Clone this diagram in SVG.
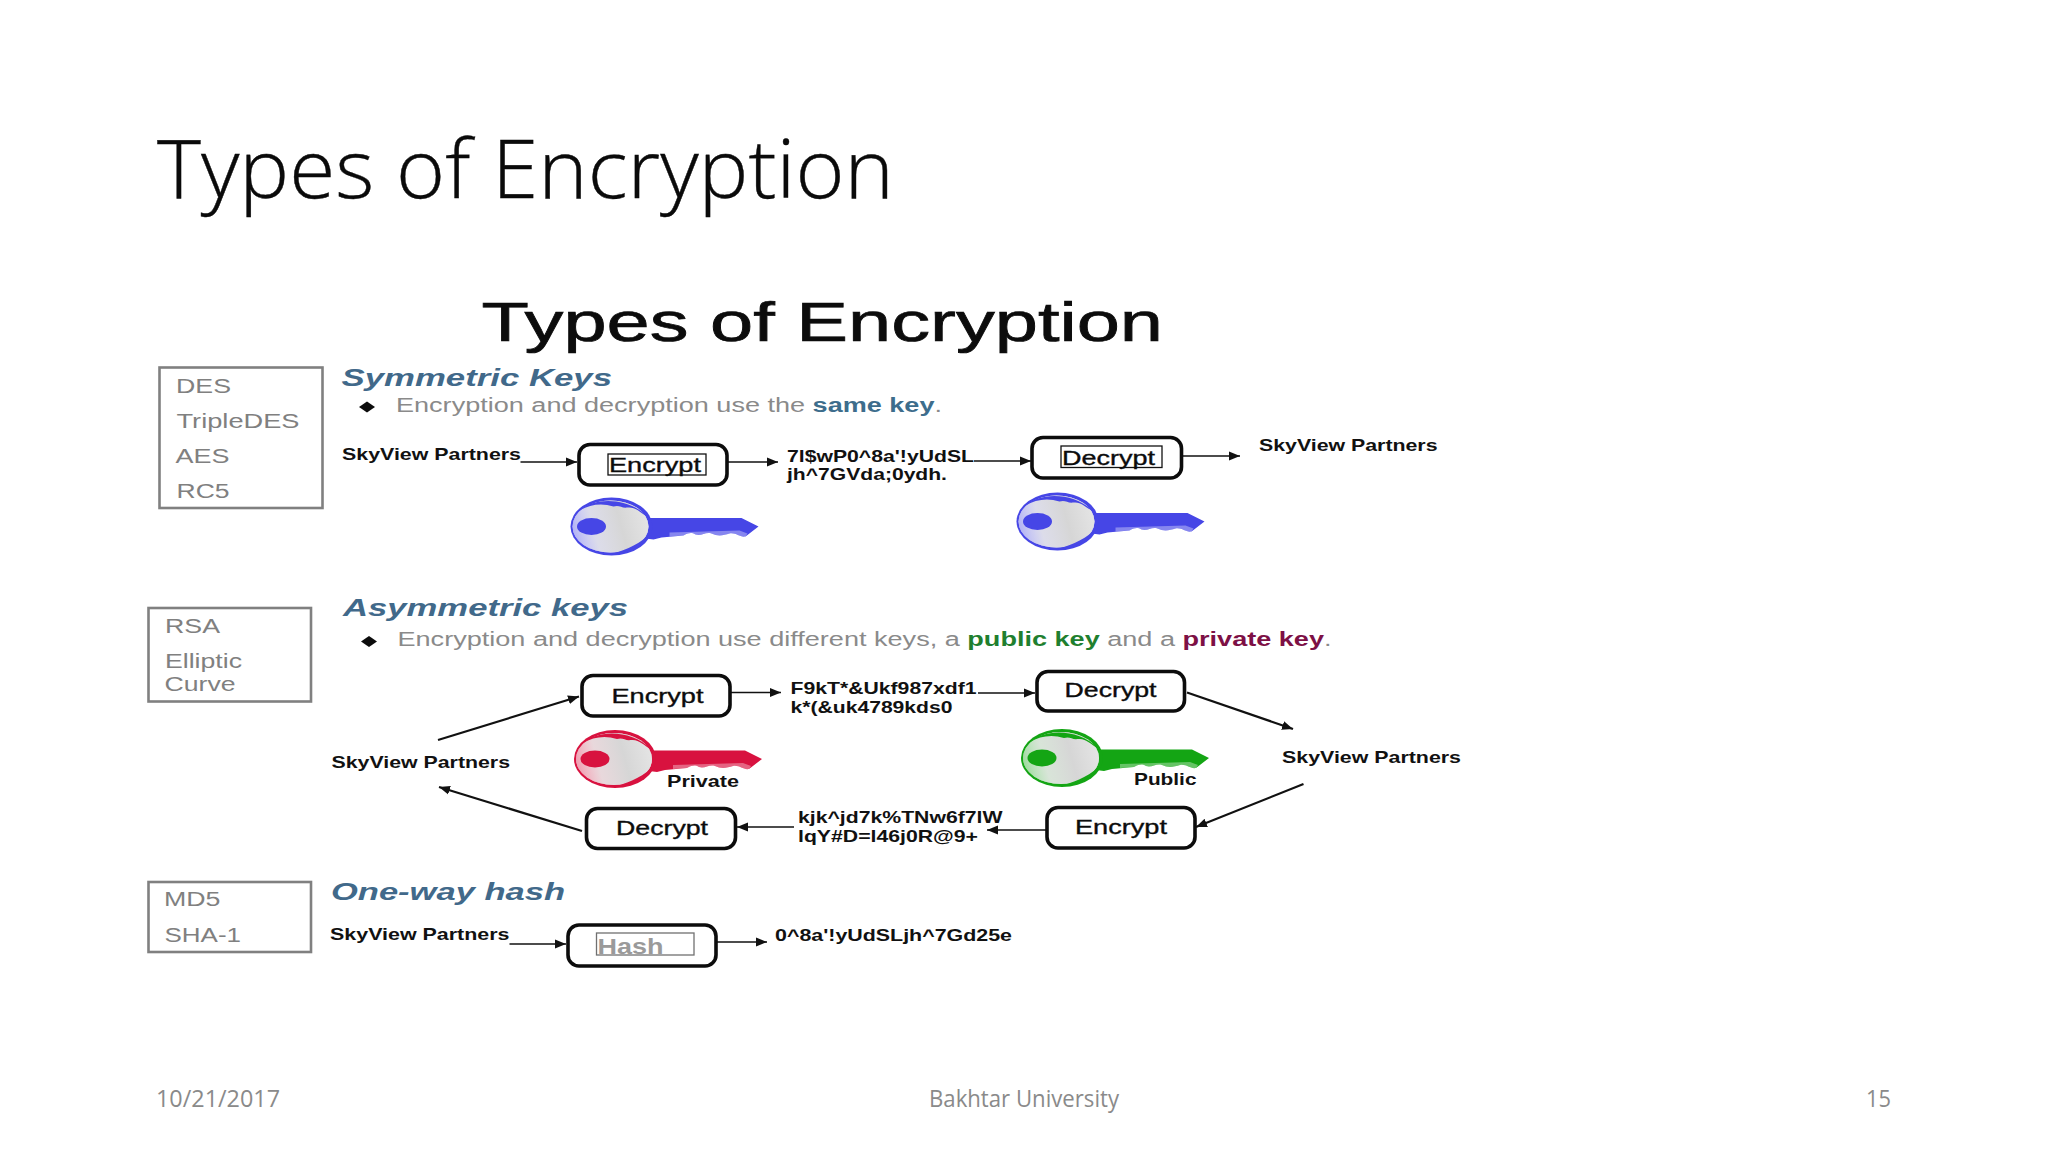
<svg xmlns="http://www.w3.org/2000/svg" width="2048" height="1152" viewBox="0 0 2048 1152">
<style>
text{font-family:"Liberation Sans",Arial,sans-serif;}
.title{font-family:"Open Sans","Liberation Sans",sans-serif;font-weight:300;font-size:82px;fill:#0a0a0a;stroke:#0a0a0a;stroke-width:.4;}
.foot{font-family:"Open Sans","Liberation Sans",sans-serif;font-size:23px;fill:#8a8a8a;}
.h0{font-size:55px;fill:#0c0c0c;stroke:#0c0c0c;stroke-width:.7;}
.list{font-size:20px;fill:#808080;}
.head{font-size:24px;font-weight:bold;font-style:italic;fill:#41698a;}
.desc{font-size:19.5px;fill:#8a8a8a;}
.lab{font-size:16.5px;font-weight:bold;fill:#111;}
.nt{font-size:20px;fill:#0c0c0c;stroke:#0c0c0c;stroke-width:.35;}
.hash{font-size:22px;font-weight:bold;fill:#9a9a9a;}
.box{fill:#fff;stroke:#808080;stroke-width:2.6;}
.node{fill:#fff;stroke:#0c0c0c;stroke-width:3.6;}
.inner{fill:none;stroke:#111;stroke-width:1.3;}
.ar{fill:none;stroke:#111;stroke-width:1.6;marker-end:url(#ah);}
.ard{fill:none;stroke:#111;stroke-width:2.2;marker-end:url(#ah);}
</style>
<defs>
<marker id="ah" markerUnits="userSpaceOnUse" markerWidth="12" markerHeight="10" refX="11" refY="5" orient="auto"><path d="M0,0.5 L11,5 L0,9.5 Z" fill="#111"/></marker>
<linearGradient id="headfill" gradientUnits="userSpaceOnUse" x1="-38" y1="14" x2="36" y2="-6">
<stop offset="0" stop-color="#fff" stop-opacity=".2"/><stop offset=".3" stop-color="#e8e8e8" stop-opacity=".85"/><stop offset=".65" stop-color="#d6d6d6"/><stop offset="1" stop-color="#e4e4e4"/>
</linearGradient>
<g id="key">
<path fill="currentColor" d="M34,-8.500 L130,-8.500 L147,0 L134,10 C128,11 125,6 118,7 C112,9 106,10 100,7 C94,5 90,10 84,8 C80,6 78,6 72,9 L50,11 L42,13 L34,12 Z"/>
<path fill="#fff" fill-opacity=".35" d="M58,6 L128,4 L136,7 L134,10 C128,11 125,6 118,7 C112,9 106,10 100,7 C94,5 90,10 84,8 C80,6 78,6 72,9 L58,10 Z"/>
<ellipse rx="41" ry="29" fill="currentColor"/>
<ellipse cx="-1" rx="38" ry="26" fill="#fff"/>
<ellipse cx="-1" rx="38" ry="26" fill="currentColor" fill-opacity=".55"/>
<ellipse cx="-1" rx="38" ry="26" fill="url(#headfill)"/>
<path fill="currentColor" d="M-32,-16 C-18,-29 16,-30 36,-10 C28,-14 24,-20 16,-19 C10,-18 8,-22 2,-20 C-10,-24 -22,-22 -32,-16 Z"/>
<path fill="currentColor" d="M37,9 C28,21 12,28 -2,28 C10,25 24,20 37,9 Z"/>
<ellipse cx="-20" cy="0" rx="14.500" ry="8.500" fill="currentColor"/>
</g>
</defs>
<rect width="2048" height="1152" fill="#fff"/>

<g id="slide-title"><text class="title" x="157" y="198" textLength="737" lengthAdjust="spacingAndGlyphs">Types of Encryption</text></g>
<g id="picture-title"><text class="h0" x="481.500" y="341" textLength="681.500" lengthAdjust="spacingAndGlyphs">Types of Encryption</text></g>

<g id="connectors">
<path class="ar" d="M520.5,462 H577"/>
<path class="ar" d="M728,462 H778"/>
<path class="ar" d="M974,461 H1031"/>
<path class="ar" d="M1183,456 H1240"/>
<path class="ard" d="M438,740 L579,696.5"/>
<path class="ar" d="M731,692.5 H781"/>
<path class="ar" d="M978,693 H1035"/>
<path class="ard" d="M1187,692.5 L1293,729"/>
<path class="ard" d="M1303.5,784 L1196,827"/>
<path class="ar" d="M1047,830 H987"/>
<path class="ar" d="M794,827 H737"/>
<path class="ard" d="M582,831 L439,787"/>
<path class="ar" d="M509.5,944 H566"/>
<path class="ar" d="M717,942 H767"/>
</g>

<g id="list-symmetric">
<rect class="box" x="159.500" y="367.500" width="163" height="140.500"/>
<text class="list" x="176" y="393" textLength="55" lengthAdjust="spacingAndGlyphs">DES</text>
<text class="list" x="176.500" y="428" textLength="123" lengthAdjust="spacingAndGlyphs">TripleDES</text>
<text class="list" x="175.500" y="463" textLength="54" lengthAdjust="spacingAndGlyphs">AES</text>
<text class="list" x="176.500" y="497.500" textLength="53" lengthAdjust="spacingAndGlyphs">RC5</text>
</g>
<g id="heading-symmetric">
<text class="head" x="341.500" y="386" textLength="270.500" lengthAdjust="spacingAndGlyphs">Symmetric Keys</text>
<path d="M359,407 L367,401.500 L375,407 L367,412.500 Z" fill="#0c0c0c"/>
<text class="desc" x="396" y="412" textLength="546" lengthAdjust="spacingAndGlyphs">Encryption and decryption use the <tspan font-weight="bold" fill="#3d6d8c">same key</tspan>.</text>
</g>
<g id="sym-source"><text class="lab" x="342" y="459.500" textLength="179" lengthAdjust="spacingAndGlyphs">SkyView Partners</text></g>
<g id="sym-encrypt">
<rect class="node" x="579" y="444.500" width="148" height="40.500" rx="11"/>
<rect class="inner" x="608" y="454" width="98" height="21"/>
<text class="nt" x="609" y="472" textLength="92" lengthAdjust="spacingAndGlyphs">Encrypt</text>
</g>
<g id="sym-cipher">
<text class="lab" x="787" y="461.500" textLength="187" lengthAdjust="spacingAndGlyphs">7l$wP0^8a'!yUdSL</text>
<text class="lab" x="787" y="480" textLength="160" lengthAdjust="spacingAndGlyphs">jh^7GVda;0ydh.</text>
</g>
<g id="sym-decrypt">
<rect class="node" x="1032" y="437.500" width="149.500" height="40.500" rx="11"/>
<rect class="inner" x="1061" y="446" width="101" height="21.500"/>
<text class="nt" x="1062" y="464.500" textLength="93" lengthAdjust="spacingAndGlyphs">Decrypt</text>
</g>
<g id="sym-target"><text class="lab" x="1259" y="450.500" textLength="178.500" lengthAdjust="spacingAndGlyphs">SkyView Partners</text></g>
<g id="sym-key-1" color="#4646e6"><use href="#key" transform="translate(611.500,526.500)"/></g>
<g id="sym-key-2" color="#4646e6"><use href="#key" transform="translate(1057.500,521.500)"/></g>

<g id="list-asymmetric">
<rect class="box" x="148.500" y="608" width="162.500" height="93.500"/>
<text class="list" x="165" y="633" textLength="55" lengthAdjust="spacingAndGlyphs">RSA</text>
<text class="list" x="165" y="667.500" textLength="77" lengthAdjust="spacingAndGlyphs">Elliptic</text>
<text class="list" x="164.500" y="690.500" textLength="71" lengthAdjust="spacingAndGlyphs">Curve</text>
</g>
<g id="heading-asymmetric">
<text class="head" x="343" y="615.500" textLength="285" lengthAdjust="spacingAndGlyphs">Asymmetric keys</text>
<path d="M361,641.500 L369,636 L377,641.500 L369,647 Z" fill="#0c0c0c"/>
<text class="desc" x="397.500" y="646" textLength="934" lengthAdjust="spacingAndGlyphs">Encryption and decryption use different keys, a <tspan font-weight="bold" fill="#1f7f2f">public key</tspan> and a <tspan font-weight="bold" fill="#7d1045">private key</tspan>.</text>
</g>
<g id="asym-source"><text class="lab" x="331.500" y="768" textLength="178.500" lengthAdjust="spacingAndGlyphs">SkyView Partners</text></g>
<g id="asym-encrypt-top">
<rect class="node" x="582" y="675.500" width="148" height="40.500" rx="11"/>
<text class="nt" x="611.500" y="702.500" textLength="92" lengthAdjust="spacingAndGlyphs">Encrypt</text>
</g>
<g id="asym-cipher-top">
<text class="lab" x="790.500" y="693.500" textLength="186" lengthAdjust="spacingAndGlyphs">F9kT*&amp;Ukf987xdf1</text>
<text class="lab" x="790.500" y="712.500" textLength="162" lengthAdjust="spacingAndGlyphs">k*(&amp;uk4789kds0</text>
</g>
<g id="asym-decrypt-top">
<rect class="node" x="1037" y="671.500" width="147.500" height="39.500" rx="11"/>
<text class="nt" x="1064.500" y="697" textLength="92" lengthAdjust="spacingAndGlyphs">Decrypt</text>
</g>
<g id="asym-target"><text class="lab" x="1282" y="763" textLength="179" lengthAdjust="spacingAndGlyphs">SkyView Partners</text></g>
<g id="asym-key-private" color="#d8123f">
<use href="#key" transform="translate(615,759)"/>
<text class="lab" x="667" y="786.500" textLength="72" lengthAdjust="spacingAndGlyphs">Private</text>
</g>
<g id="asym-key-public" color="#14a514">
<use href="#key" transform="translate(1062,758)"/>
<text class="lab" x="1134" y="785" textLength="62.500" lengthAdjust="spacingAndGlyphs">Public</text>
</g>
<g id="asym-encrypt-bottom">
<rect class="node" x="1047" y="807.500" width="148" height="40.500" rx="11"/>
<text class="nt" x="1075" y="834" textLength="92" lengthAdjust="spacingAndGlyphs">Encrypt</text>
</g>
<g id="asym-cipher-bottom">
<text class="lab" x="798" y="823" textLength="204.500" lengthAdjust="spacingAndGlyphs">kjk^jd7k%TNw6f7lW</text>
<text class="lab" x="798" y="842" textLength="180" lengthAdjust="spacingAndGlyphs">lqY#D=l46j0R@9+</text>
</g>
<g id="asym-decrypt-bottom">
<rect class="node" x="586.500" y="808.500" width="149" height="40" rx="11"/>
<text class="nt" x="616" y="835" textLength="92" lengthAdjust="spacingAndGlyphs">Decrypt</text>
</g>

<g id="list-hash">
<rect class="box" x="148.500" y="882" width="162.500" height="70"/>
<text class="list" x="164" y="906" textLength="56.500" lengthAdjust="spacingAndGlyphs">MD5</text>
<text class="list" x="164.500" y="941.500" textLength="76.500" lengthAdjust="spacingAndGlyphs">SHA-1</text>
</g>
<g id="heading-hash"><text class="head" x="331" y="900" textLength="234" lengthAdjust="spacingAndGlyphs">One-way hash</text></g>
<g id="hash-source"><text class="lab" x="330" y="939.500" textLength="179.500" lengthAdjust="spacingAndGlyphs">SkyView Partners</text></g>
<g id="hash-node">
<rect class="node" x="568" y="925" width="148" height="41" rx="11"/>
<rect class="inner" x="596.500" y="933" width="97.500" height="22" stroke-opacity=".6"/>
<text class="hash" x="597.500" y="954" textLength="66" lengthAdjust="spacingAndGlyphs">Hash</text>
</g>
<g id="hash-output"><text class="lab" x="775" y="941" textLength="237" lengthAdjust="spacingAndGlyphs">0^8a'!yUdSLjh^7Gd25e</text></g>

<g id="footer">
<text class="foot" x="156" y="1107" textLength="124" lengthAdjust="spacingAndGlyphs">10/21/2017</text>
<text class="foot" x="929" y="1107" textLength="190" lengthAdjust="spacingAndGlyphs">Bakhtar University</text>
<text class="foot" x="1866" y="1107" textLength="25" lengthAdjust="spacingAndGlyphs">15</text>
</g>
</svg>
